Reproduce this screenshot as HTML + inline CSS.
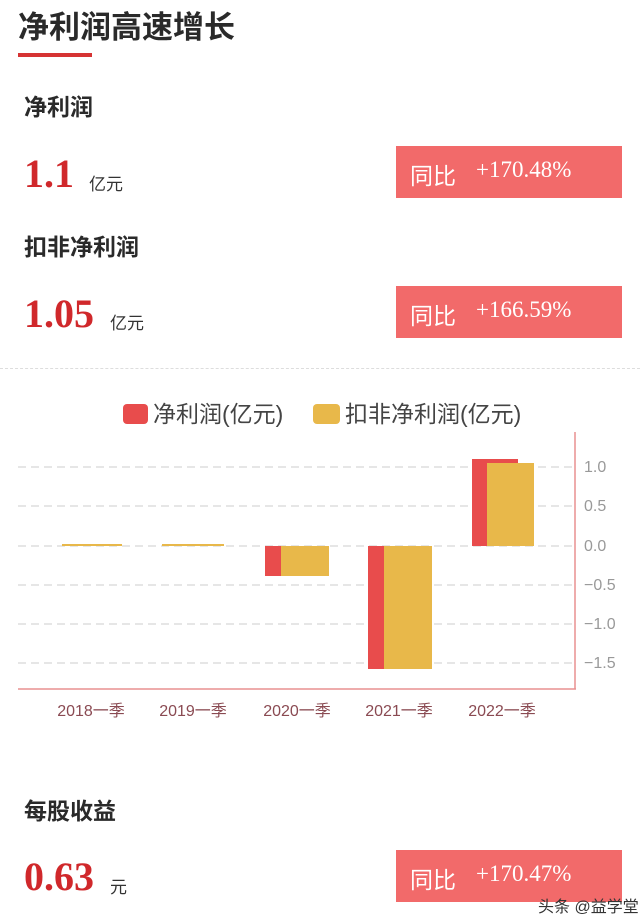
<!DOCTYPE html>
<html><head><meta charset="utf-8"><style>
body{margin:0;width:640px;height:924px;background:#fff;position:relative;overflow:hidden;font-family:"Liberation Sans","Noto Sans CJK SC",sans-serif;}
.a{position:absolute;white-space:nowrap;}
.h{font-weight:bold;color:#2a2a2a;font-size:23px;}
.num{font-family:"Liberation Serif","Noto Serif CJK SC",serif;font-weight:bold;color:#d0282b;font-size:40px;}
.unit{font-size:17px;color:#333;}
.box{position:absolute;left:396px;width:226px;height:52px;background:#f26a6a;color:#fff;}
.box span{position:absolute;top:11px;font-size:23px;}
.box .p{font-family:"Liberation Serif",serif;left:80px;}
</style></head><body>
<div class="a" style="left:18px;top:2px;font-size:31px;font-weight:bold;color:#2a2a2a;">净利润高速增长</div>
<div class="a" style="left:18px;top:53px;width:74px;height:4px;background:#d63333;"></div>

<div class="a h" style="left:24px;top:88px;">净利润</div>
<div class="a num" style="left:24px;top:150px;">1.1</div>
<div class="a unit" style="left:89px;top:170px;">亿元</div>
<div class="box" style="top:146px;"><span style="left:14px;">同比</span><span class="p">+170.48%</span></div>

<div class="a h" style="left:24px;top:228px;">扣非净利润</div>
<div class="a num" style="left:24px;top:290px;">1.05</div>
<div class="a unit" style="left:110px;top:309px;">亿元</div>
<div class="box" style="top:286px;"><span style="left:14px;">同比</span><span class="p">+166.59%</span></div>

<div class="a" style="left:0;top:368px;width:640px;border-top:1px dashed #ddd;"></div>

<svg class="a" style="left:0;top:380px;" width="640" height="340">
<rect x="123" y="24" width="25" height="20" rx="4" fill="#e84c4c"/>
<text x="153" y="42" font-size="23" fill="#444" font-family="Liberation Sans,Noto Sans CJK SC,sans-serif">净利润(亿元)</text>
<rect x="313" y="24" width="27" height="20" rx="4" fill="#e8b84a"/>
<text x="345" y="42" font-size="23" fill="#444" font-family="Liberation Sans,Noto Sans CJK SC,sans-serif">扣非净利润(亿元)</text>
<g stroke="#ddd" stroke-dasharray="8,5" stroke-width="1.5">
<line x1="18" y1="87" x2="575" y2="87"/><line x1="18" y1="126" x2="575" y2="126"/><line x1="18" y1="166" x2="575" y2="166"/><line x1="18" y1="205" x2="575" y2="205"/><line x1="18" y1="244" x2="575" y2="244"/><line x1="18" y1="283" x2="575" y2="283"/>
</g>
<line x1="575" y1="52" x2="575" y2="309" stroke="#e89090" stroke-width="1.5"/>
<line x1="18" y1="309" x2="576" y2="309" stroke="#e89090" stroke-width="1.5"/>
<rect x="62" y="164" width="60" height="2" fill="#e8b84a"/>
<rect x="162" y="164" width="62" height="2" fill="#e8b84a"/>
<rect x="265" y="166" width="18" height="30" fill="#e84c4c"/>
<rect x="281" y="166" width="48" height="30" fill="#e8b84a"/>
<rect x="368" y="166" width="18" height="123" fill="#e84c4c"/>
<rect x="384" y="166" width="48" height="123" fill="#e8b84a"/>
<rect x="472" y="79" width="46" height="87" fill="#e84c4c"/>
<rect x="487" y="83" width="47" height="83" fill="#e8b84a"/>
<g font-size="16" fill="#999" font-family="Liberation Sans,sans-serif">
<text x="584" y="92">1.0</text><text x="584" y="131">0.5</text><text x="584" y="171">0.0</text><text x="584" y="210">−0.5</text><text x="584" y="249">−1.0</text><text x="584" y="288">−1.5</text>
</g>
<g font-size="16" fill="#8a4a52" text-anchor="middle" font-family="Liberation Sans,Noto Sans CJK SC,sans-serif">
<text x="91" y="336">2018一季</text><text x="193" y="336">2019一季</text><text x="297" y="336">2020一季</text><text x="399" y="336">2021一季</text><text x="502" y="336">2022一季</text>
</g>
</svg>

<div class="a h" style="left:24px;top:792px;">每股收益</div>
<div class="a num" style="left:24px;top:853px;">0.63</div>
<div class="a unit" style="left:110px;top:873px;">元</div>
<div class="box" style="top:850px;"><span style="left:14px;">同比</span><span class="p">+170.47%</span></div>
<div class="a" style="left:538px;top:893px;font-size:16px;color:#333;">头条 @益学堂</div>
</body></html>
